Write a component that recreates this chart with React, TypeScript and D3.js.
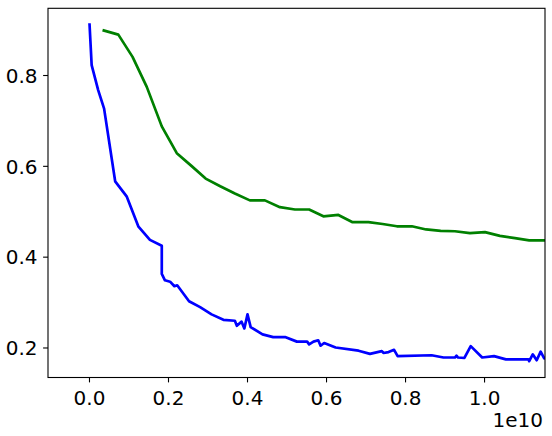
import React from "react";
import * as d3 from "d3";

const blueX = [0, 0.0055, 0.022, 0.037, 0.065, 0.094, 0.124, 0.153, 0.183, 0.183, 0.191, 0.204, 0.215, 0.222, 0.252, 0.28, 0.309, 0.339, 0.368, 0.373, 0.385, 0.392, 0.4, 0.408, 0.438, 0.465, 0.495, 0.525, 0.551, 0.556, 0.567, 0.579, 0.585, 0.594, 0.623, 0.681, 0.71, 0.74, 0.744, 0.757, 0.771, 0.78, 0.866, 0.896, 0.925, 0.929, 0.933, 0.949, 0.965, 0.994, 1.024, 1.054, 1.111, 1.113, 1.122, 1.132, 1.142, 1.151, 1.16];
const blueY = [0.915, 0.823, 0.768, 0.727, 0.567, 0.534, 0.467, 0.438, 0.425, 0.363, 0.349, 0.346, 0.336, 0.338, 0.303, 0.29, 0.274, 0.262, 0.26, 0.249, 0.258, 0.243, 0.274, 0.246, 0.23, 0.224, 0.224, 0.214, 0.214, 0.208, 0.214, 0.217, 0.205, 0.211, 0.201, 0.194, 0.187, 0.193, 0.189, 0.191, 0.196, 0.182, 0.184, 0.179, 0.179, 0.183, 0.179, 0.178, 0.204, 0.179, 0.182, 0.175, 0.175, 0.171, 0.186, 0.173, 0.192, 0.177, 0.18];

const greenX = [0.033, 0.073, 0.109, 0.145, 0.183, 0.221, 0.258, 0.294, 0.331, 0.368, 0.406, 0.444, 0.482, 0.52, 0.556, 0.592, 0.63, 0.666, 0.706, 0.742, 0.778, 0.816, 0.852, 0.889, 0.925, 0.963, 1.001, 1.039, 1.077, 1.113, 1.151, 1.19];
const greenY = [0.9, 0.89, 0.841, 0.775, 0.688, 0.629, 0.601, 0.573, 0.556, 0.54, 0.525, 0.525, 0.51, 0.505, 0.505, 0.49, 0.493, 0.477, 0.477, 0.473, 0.468, 0.468, 0.461, 0.458, 0.457, 0.453, 0.455, 0.447, 0.442, 0.437, 0.437, 0.437];

const xTicks = [0, 0.2, 0.4, 0.6, 0.8, 1.0];
const yTicks = [0.2, 0.4, 0.6, 0.8];
const SCALE = 1e10;

export default function App() {
  const W = 552, H = 436;
  const left = 48, right = 545, top = 8.3, bottom = 377.5;
  const x = d3.scaleLinear().domain([-0.105 * SCALE, 1.153 * SCALE]).range([left, right]);
  const y = d3.scaleLinear().domain([0.135, 0.948]).range([bottom, top]);
  const line = d3.line<[number, number]>().x((d) => x(d[0])).y((d) => y(d[1]));
  const blue = blueX.map((v, i) => [v * SCALE, blueY[i]] as [number, number]);
  const green = greenX.map((v, i) => [v * SCALE, greenY[i]] as [number, number]);
  const font = "DejaVu Sans, sans-serif";
  return (
    <svg width={W} height={H} style={{ position: "absolute", left: 0, top: 0, background: "#fff" }}>
      <defs>
        <clipPath id="plot">
          <rect x={left} y={top} width={right - left} height={bottom - top} />
        </clipPath>
      </defs>
      <rect x={0} y={0} width={W} height={H} fill="#fff" />
      <g clipPath="url(#plot)">
        <path d={line(blue) || ""} fill="none" stroke="#0000ff" strokeWidth={2.7} strokeLinejoin="round" />
        <path d={line(green) || ""} fill="none" stroke="#008000" strokeWidth={2.7} strokeLinejoin="round" />
      </g>
      <rect x={left} y={top} width={right - left} height={bottom - top} fill="none" stroke="#000" strokeWidth={1.1} />
      {xTicks.map((t) => (
        <g key={"x" + t}>
          <line x1={x(t * SCALE)} x2={x(t * SCALE)} y1={bottom} y2={bottom + 4.9} stroke="#000" strokeWidth={1.1} />
          <text x={x(t * SCALE)} y={404.5} textAnchor="middle" fontFamily={font} fontSize={20} fill="#000">
            {t.toFixed(1)}
          </text>
        </g>
      ))}
      {yTicks.map((t) => (
        <g key={"y" + t}>
          <line x1={left - 4.9} x2={left} y1={y(t)} y2={y(t)} stroke="#000" strokeWidth={1.1} />
          <text x={37.5} y={y(t) + 7.3} textAnchor="end" fontFamily={font} fontSize={20} fill="#000">
            {t.toFixed(1)}
          </text>
        </g>
      ))}
      <text x={543} y={426.7} textAnchor="end" fontFamily={font} fontSize={20} fill="#000">1e10</text>
    </svg>
  );
}
